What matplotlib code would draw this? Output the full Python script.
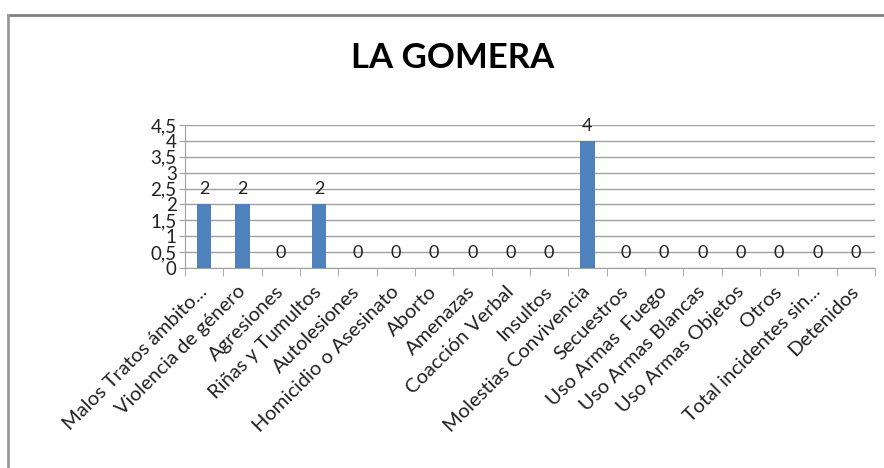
import numpy as np
import matplotlib.pyplot as plt
from matplotlib.lines import Line2D

categorias = ["Malos Tratos ámbito...", "Violencia de género", "Agresiones",
              "Riñas y Tumultos", "Autolesiones", "Homicidio o Asesinato",
              "Aborto", "Amenazas", "Coacción Verbal", "Insultos",
              "Molestias Convivencia", "Secuestros", "Uso Armas  Fuego",
              "Uso Armas Blancas", "Uso Armas Objetos", "Otros",
              "Total incidentes sin...", "Detenidos"]
valores = [2, 2, 0, 2, 0, 0, 0, 0, 0, 0, 4, 0, 0, 0, 0, 0, 0, 0]
yticks = [0, 0.5, 1, 1.5, 2, 2.5, 3, 3.5, 4, 4.5]

plt.rcParams['font.family'] = ['Lato', 'DejaVu Sans']

fig = plt.figure(figsize=(8.84, 4.68), dpi=100)
ax = fig.add_axes([185/884, 1-268/468, 690/884, 143/468])

x = np.arange(len(categorias))
ax.bar(x, valores, width=0.37, color='#4F81BD', zorder=3)
for xi, v in zip(x, valores):
    ax.annotate(str(v), (xi, v), xytext=(0, 5), textcoords='offset points',
                ha='center', va='bottom', fontsize=13, color='#222222')

ax.set_xlim(-0.5, len(categorias) - 0.5)
ax.set_ylim(0, 4.5)
ax.set_yticks(yticks)
ax.set_yticklabels([str(t).replace('.', ',').replace(',0', '') for t in yticks],
                   fontsize=13.5, color='#222222')
ax.grid(axis='y', color='#A0A0A0', linewidth=1, zorder=0)
ax.tick_params(axis='y', length=4, color='#A0A0A0', pad=2)

ax.set_xticks(x)
ax.set_xticklabels(categorias, rotation=45, ha='right', va='center',
                   rotation_mode='anchor', fontsize=14.5, color='#222222')
ax.tick_params(axis='x', length=0, pad=15)
ax.set_xticks(np.arange(len(categorias) + 1) - 0.5, minor=True)
ax.tick_params(axis='x', which='minor', length=6, color='#A0A0A0')

for s in ['top', 'right']:
    ax.spines[s].set_visible(False)
ax.spines['left'].set_color('#A0A0A0')
ax.spines['bottom'].set_color('#A0A0A0')

fig.text(453/884, 1-58/468, "LA GOMERA", ha='center', va='center',
         fontsize=25, fontweight='bold')

# marco
fig.add_artist(Line2D([8/884, 1], [1-15/468, 1-15/468], color='#808080', lw=2))
fig.add_artist(Line2D([8/884, 8/884], [0, 1-15/468], color='#999999', lw=2))

fig.savefig('out.png', dpi=100)
